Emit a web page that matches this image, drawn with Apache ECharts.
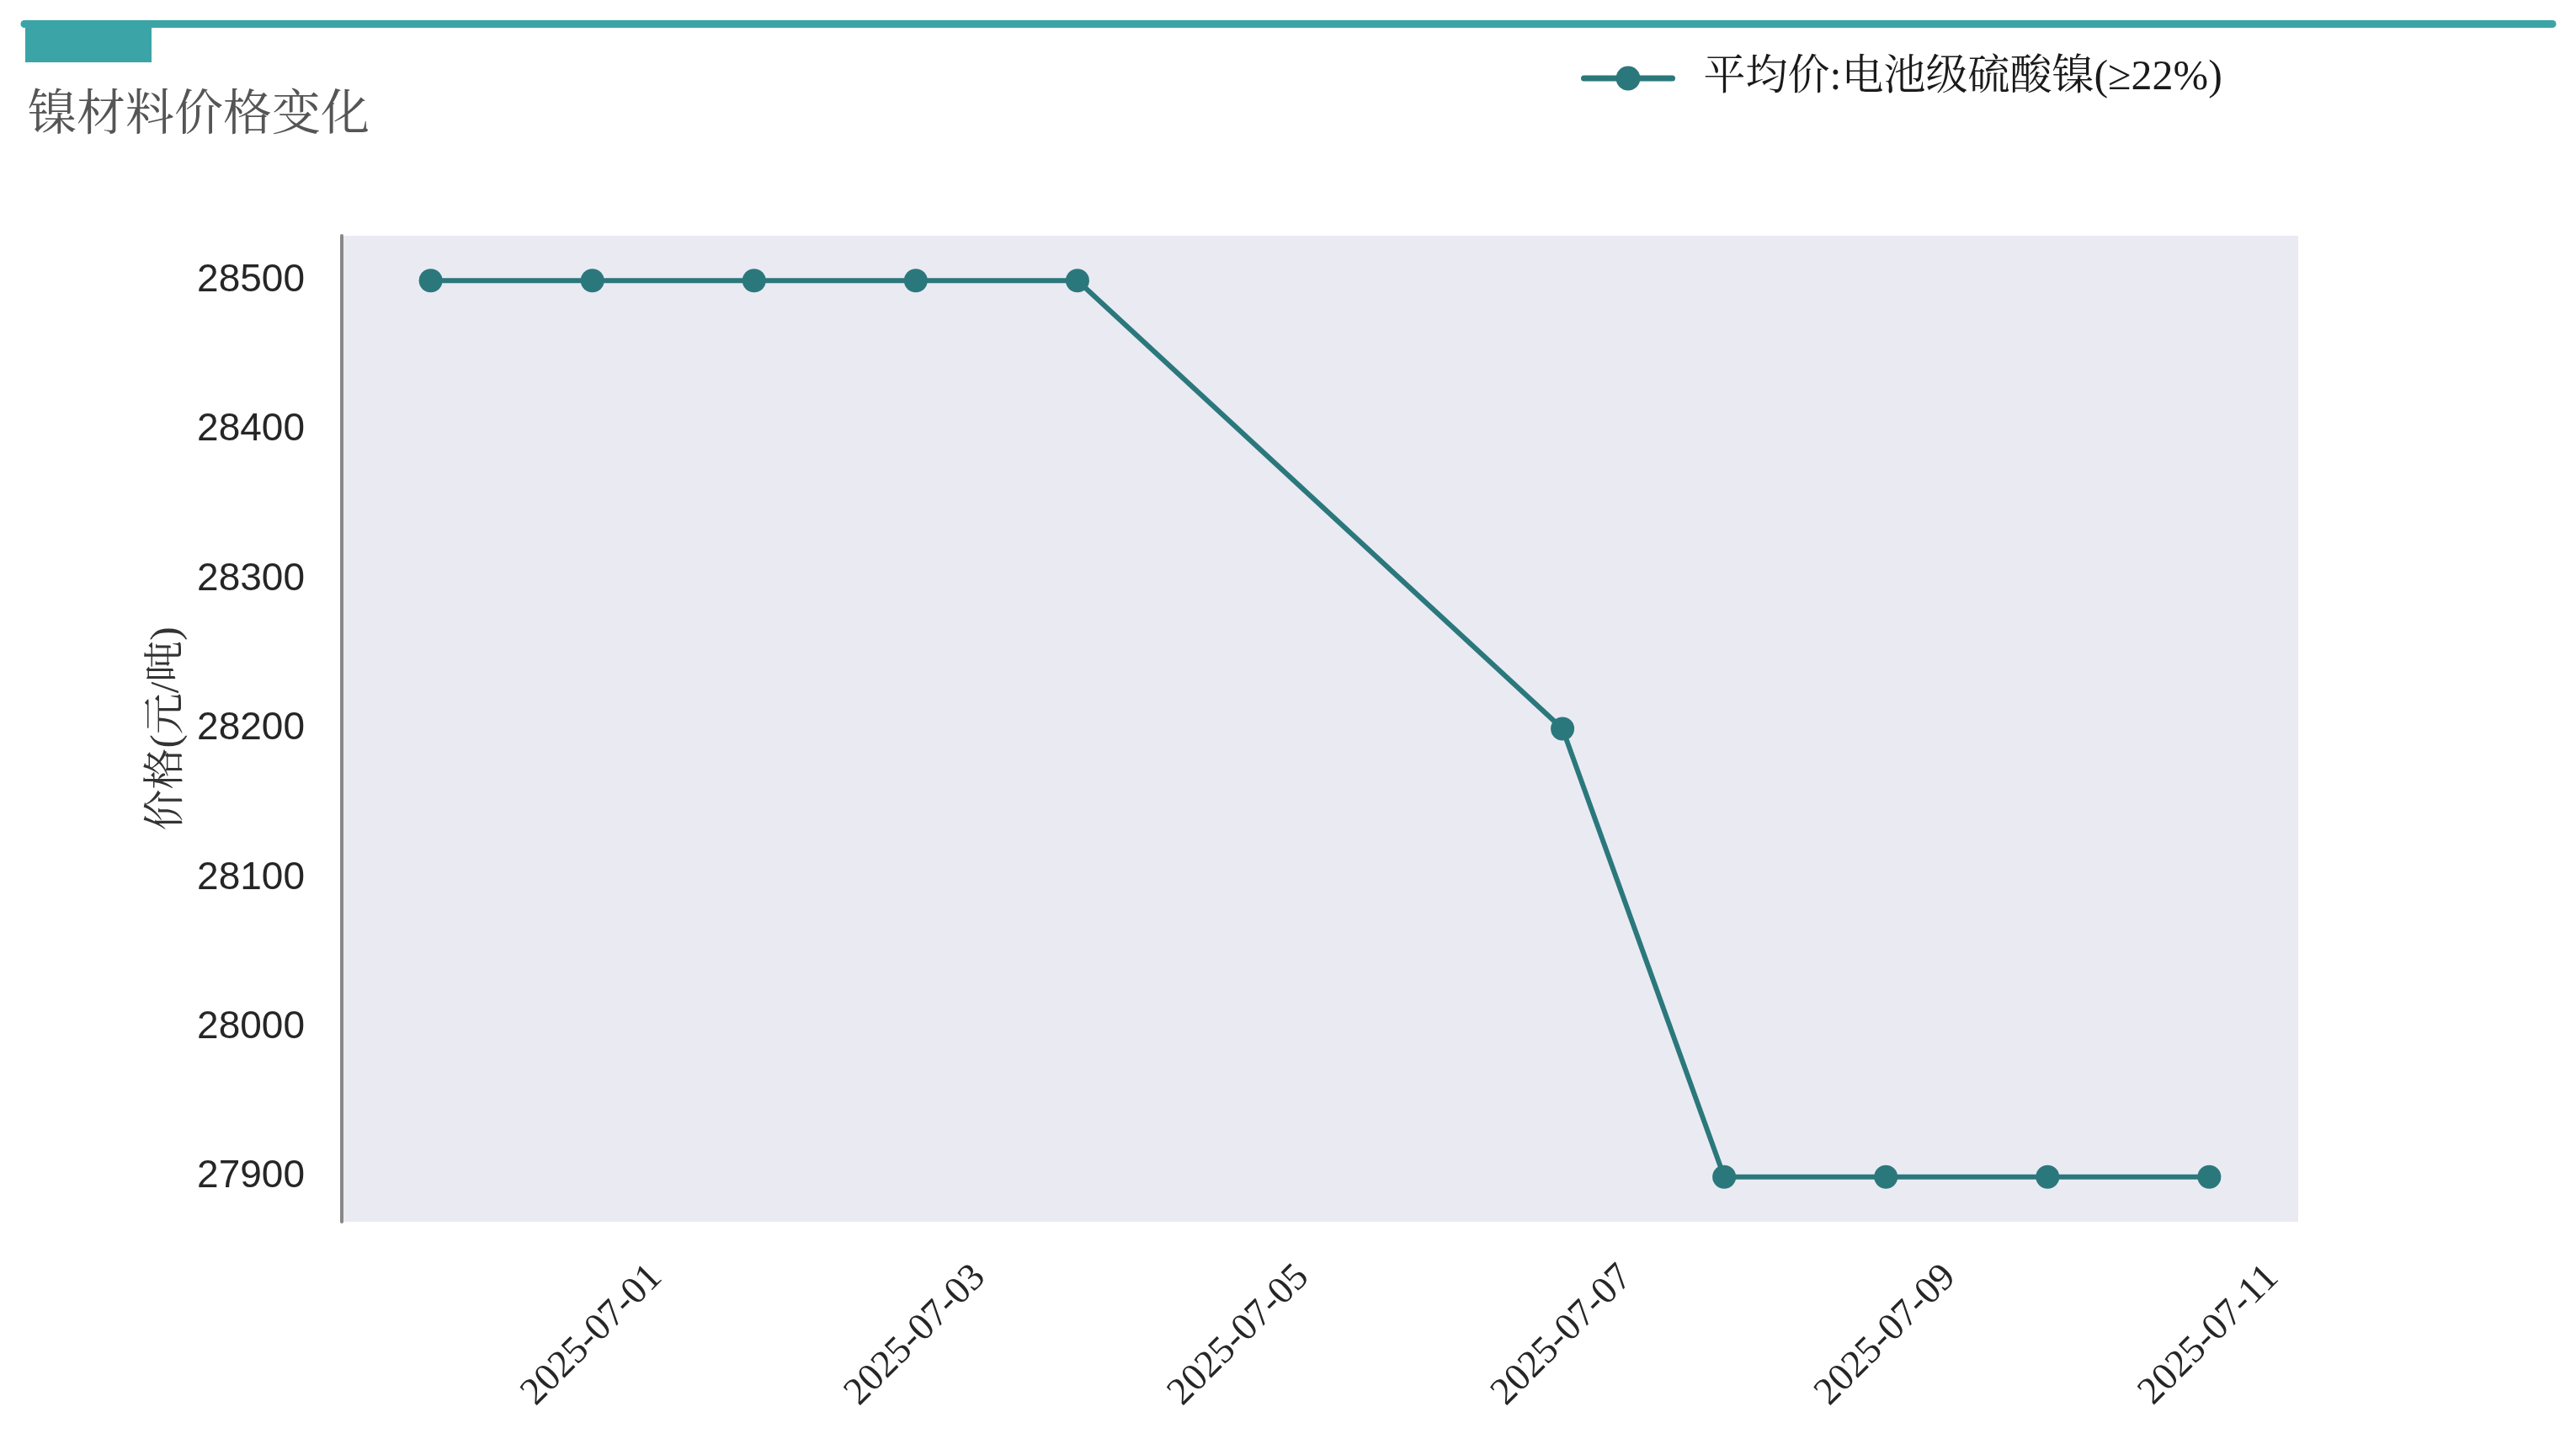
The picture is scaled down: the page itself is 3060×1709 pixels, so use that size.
<!DOCTYPE html>
<html>
<head>
<meta charset="utf-8">
<title>镍材料价格变化</title>
<script src="https://cdn.jsdelivr.net/npm/echarts@6/dist/echarts.min.js"></script>
<style>
  html, body { margin: 0; padding: 0; background: #ffffff; }
  #chart { width: 3060px; height: 1709px; }
</style>
</head>
<body>
<div id="chart"></div>
<script>
// Daily average price of battery-grade nickel sulfate
const dates = ['2025-06-30', '2025-07-01', '2025-07-02', '2025-07-03', '2025-07-04',
               '2025-07-07', '2025-07-08', '2025-07-09', '2025-07-10', '2025-07-11'];
const prices = [28500, 28500, 28500, 28500, 28500, 28200, 27900, 27900, 27900, 27900];

// Axis ticks
const xTickLabels = ['2025-07-01', '2025-07-03', '2025-07-05', '2025-07-07', '2025-07-09', '2025-07-11'];
const yTickValues = [27900, 28000, 28100, 28200, 28300, 28400, 28500];

// Texts
const chartTitle = '镍材料价格变化';
const seriesName = '平均价:电池级硫酸镍(≥22%)';
const yAxisName = '价格(元/吨)';

// Parse 'YYYY-MM-DD' into a UTC timestamp so positions do not depend on the local zone
function toTime(s) {
  const p = s.split('-').map(Number);
  return Date.UTC(p[0], p[1] - 1, p[2]);
}

const times = dates.map(toTime);
const xTicks = xTickLabels.map(toTime);
const labelByTime = {};
xTickLabels.forEach(function (s, i) { labelByTime[xTicks[i]] = s; });

// 5% padding around the data on both axes
const tLo = Math.min.apply(null, times), tHi = Math.max.apply(null, times);
const tPad = (tHi - tLo) * 0.05;
const pLo = Math.min.apply(null, prices), pHi = Math.max.apply(null, prices);
const pPad = (pHi - pLo) * 0.05;

const TEAL = '#2b787c';
const ACCENT = '#3ba4a6';
const SANS = '"Liberation Sans", Arial, "Noto Sans CJK SC", sans-serif';
const SERIF = '"Liberation Serif", "Times New Roman", "Noto Serif CJK SC", "Noto Sans CJK SC", serif';

const chart = echarts.init(document.getElementById('chart'), null, { renderer: 'canvas' });

chart.setOption({
  backgroundColor: '#ffffff',
  animation: false,
  graphic: [
    // header rule and tab
    { type: 'rect', shape: { x: 30, y: 28, width: 150, height: 46 }, style: { fill: ACCENT }, z: 10 },
    { type: 'line', shape: { x1: 29, y1: 28.5, x2: 3032, y2: 28.5 },
      style: { stroke: ACCENT, lineWidth: 9, lineCap: 'round' }, z: 11 },
    { type: 'text', x: 33, y: 139,
      style: { text: chartTitle, fill: '#555555', font: 'normal 58px ' + SERIF,
               textAlign: 'left', textVerticalAlign: 'middle' }, z: 10 }
  ],
  legend: {
    show: true,
    left: 1878,
    top: 68,
    padding: 0,
    itemWidth: 105,
    itemHeight: 36,
    lineStyle: { width: 7, cap: 'round' },
    textStyle: {
      fontSize: 50,
      fontFamily: SERIF,
      color: '#1a1a1a',
      padding: [0, 0, 0, 32]
    },
    data: [seriesName]
  },
  grid: {
    left: 406,
    top: 280,
    right: 330,
    bottom: 258,
    show: true,
    backgroundColor: '#eaeaf2',
    borderWidth: 0,
    containLabel: false
  },
  xAxis: {
    type: 'value',
    min: tLo - tPad,
    max: tHi + tPad,
    axisLine: { show: false },
    axisTick: { show: false },
    splitLine: { show: false },
    axisLabel: {
      customValues: xTicks,
      rotate: 45,
      align: 'center',
      verticalAlign: 'middle',
      margin: 135,
      fontSize: 46,
      fontFamily: SERIF,
      color: '#262626',
      formatter: function (v) { return labelByTime[v] || ''; }
    }
  },
  yAxis: {
    type: 'value',
    min: pLo - pPad,
    max: pHi + pPad,
    name: yAxisName,
    nameLocation: 'middle',
    nameRotate: 90,
    nameGap: 168,
    nameTextStyle: { fontSize: 49, fontFamily: SERIF, color: '#333333' },
    axisLine: { show: true, lineStyle: { color: '#888888', width: 4 } },
    axisTick: { show: false },
    splitLine: { show: false },
    axisLabel: {
      customValues: yTickValues,
      margin: 44,
      fontSize: 46,
      fontFamily: SANS,
      color: '#262626',
      formatter: function (v) { return String(Math.round(v)); }
    }
  },
  series: [{
    name: seriesName,
    type: 'line',
    data: times.map(function (t, i) { return [t, prices[i]]; }),
    symbol: 'circle',
    symbolSize: 28,
    showSymbol: true,
    lineStyle: { color: TEAL, width: 6 },
    itemStyle: { color: TEAL },
    emphasis: { disabled: true },
    z: 5
  }]
});
</script>
</body>
</html>
